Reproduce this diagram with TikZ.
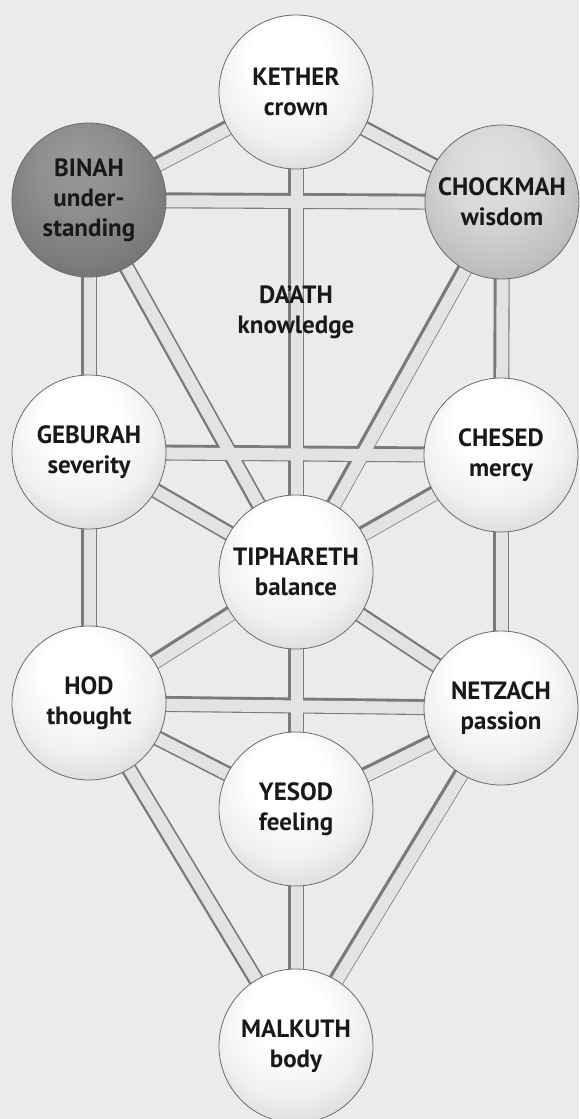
\documentclass[tikz,border=0pt]{standalone}
\usepackage{fontspec}
\setmainfont{PT Sans}
\pgfdeclarelayer{bg}
\pgfdeclarelayer{pipes}
\pgfsetlayers{bg,pipes,main}
\pgfdeclareradialshading{sphlight}{\pgfpoint{-4bp}{14bp}}{color(0bp)=(white); color(12bp)=(white); color(24bp)=(black!6); color(34bp)=(black!16); color(42bp)=(black!29); color(47bp)=(black!41); color(50bp)=(black!56)}
\pgfdeclareradialshading{sphmid}{\pgfpoint{-4bp}{14bp}}{color(0bp)=(black!12); color(14bp)=(black!15); color(28bp)=(black!25); color(40bp)=(black!38); color(46bp)=(black!50); color(50bp)=(black!66)}
\pgfdeclareradialshading{sphdark}{\pgfpoint{-4bp}{14bp}}{color(0bp)=(black!40); color(14bp)=(black!44); color(28bp)=(black!52); color(40bp)=(black!62); color(46bp)=(black!72); color(50bp)=(black!84)}
\newcommand\lbl{\bfseries\fontsize{25}{30}\selectfont}
\tikzset{
  sph/.style={circle, minimum size=154pt, inner sep=0pt, align=center, font=\lbl, text=black!90, draw=black!58, line width=0.8pt},
  lightsph/.style={sph, shading=sphlight},
  midsph/.style={sph, shading=sphmid},
  darksph/.style={sph, shading=sphdark},
  pipeout/.style={line width=16pt, draw=black!52},
  pipein/.style={line width=12pt, draw=black!11, transform canvas={shift={(0.9pt,-0.9pt)}}},
  plain/.style={align=center, font=\lbl, text=black!90, inner sep=0pt}
}
\begin{document}
\begin{tikzpicture}[x=1pt,y=-1pt]
\useasboundingbox (0,0) rectangle (579,1119);
\begin{pgfonlayer}{bg}
  \fill[black!8] (0,0) rectangle (579,1119);
\end{pgfonlayer}
\node[lightsph] (ke) at (296,92) {KETHER\\crown};
\node[darksph]  (bi) at (89,200) {BINAH\\under-\\standing};
\node[midsph]   (ch) at (502,202) {CHOCKMAH\\wisdom};
\node[lightsph] (ge) at (89,452) {GEBURAH\\severity};
\node[lightsph] (he) at (501,455) {CHESED\\mercy};
\node[lightsph] (ti) at (296,572) {TIPHARETH\\balance};
\node[lightsph] (ho) at (89,703) {HOD\\thought};
\node[lightsph] (ne) at (501,708) {NETZACH\\passion};
\node[lightsph] (ye) at (296,809) {YESOD\\feeling};
\node[lightsph] (ma) at (296,1046) {MALKUTH\\body};
\node[plain] (da) at (296,312) {DA'ATH\\knowledge};
\begin{pgfonlayer}{pipes}
  \foreach \s in {pipeout,pipein}{
    \foreach \a/\b in {ke/bi,ke/ch,ke/ti,bi/ch,bi/ge,bi/ti,ch/he,ch/ti,ge/he,ge/ti,he/ti,ge/ho,he/ne,ti/ho,ti/ne,ti/ye,ho/ne,ho/ye,ne/ye,ho/ma,ne/ma,ye/ma}
      \draw[\s] (\a.center) -- (\b.center);
  }
\end{pgfonlayer}
\end{tikzpicture}
\end{document}
